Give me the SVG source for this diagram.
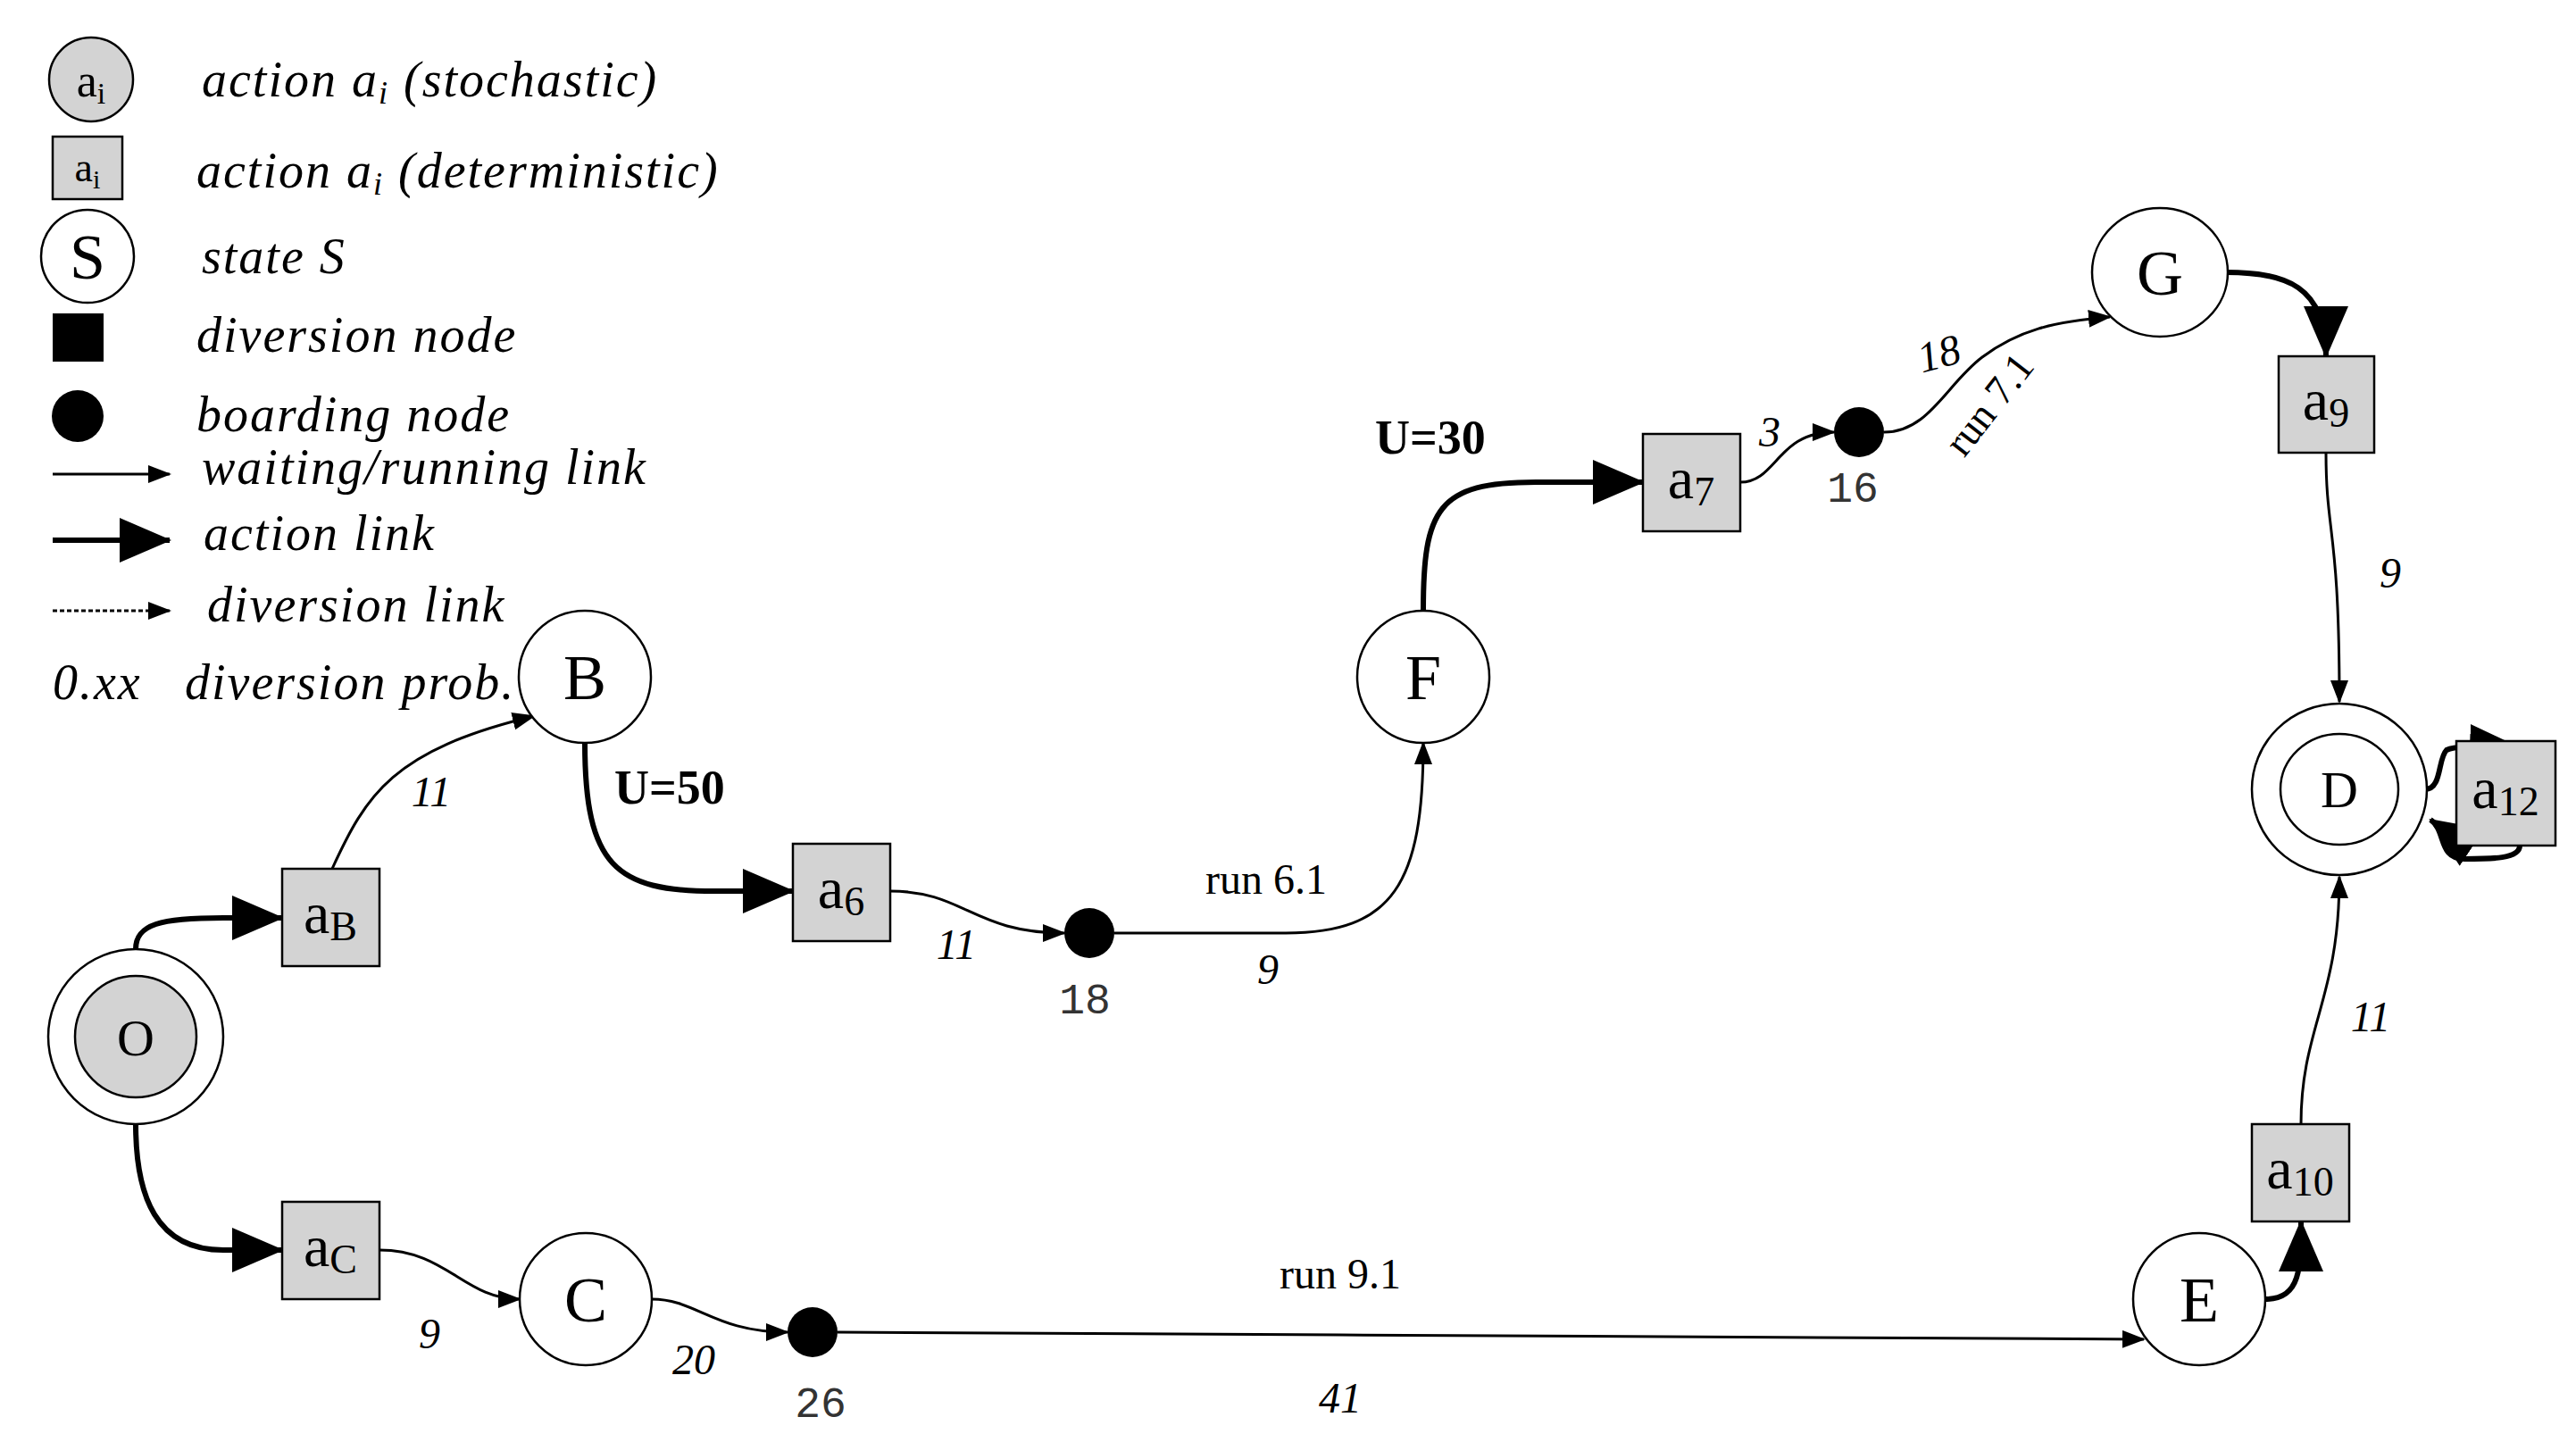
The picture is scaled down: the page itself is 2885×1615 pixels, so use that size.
<svg xmlns="http://www.w3.org/2000/svg" width="2885" height="1615" viewBox="0 0 2885 1615">
<style>
.st{fill:#fff;stroke:#000;stroke-width:2.5}
.gr{fill:#d3d3d3;stroke:#000;stroke-width:2.5}
.t{font-family:"Liberation Serif",serif;fill:#000}
.lg{font-family:"Liberation Serif",serif;font-style:italic;font-size:56px;letter-spacing:2px}
.nl{font-size:72px;text-anchor:middle}
.bl{font-size:66px;text-anchor:middle}
.it{font-family:"Liberation Serif",serif;font-style:italic;font-size:48px;text-anchor:middle}
.mono{font-family:"Liberation Mono",monospace;font-size:48px;text-anchor:middle;fill:#333}
.thin{fill:none;stroke:#000;stroke-width:3;marker-end:url(#ah)}
.thick{fill:none;stroke:#000;stroke-width:6;marker-end:url(#AH)}
</style>
<defs>
<marker id="ah" markerUnits="userSpaceOnUse" markerWidth="26" markerHeight="20" refX="24" refY="10" orient="auto"><path d="M0,0 L26,10 L0,20 Z"/></marker>
<marker id="AH" markerUnits="userSpaceOnUse" markerWidth="58" markerHeight="50" refX="56" refY="25" orient="auto"><path d="M0,0 L58,25 L0,50 Z"/></marker>
</defs>
<rect width="2885" height="1615" fill="#fff"/>
<g id="legend">
<circle cx="102" cy="89" r="47" class="gr"/>
<text class="t" x="102" y="108" font-size="52" text-anchor="middle">a<tspan font-size="34" dy="8">i</tspan></text>
<text class="t lg" x="226" y="108">action a<tspan font-size="36" dy="8">i</tspan><tspan dy="-8"> (stochastic)</tspan></text>
<rect x="59" y="153" width="78" height="70" class="gr"/>
<text class="t" x="98" y="203" font-size="46" text-anchor="middle">a<tspan font-size="30" dy="8">i</tspan></text>
<text class="t lg" x="220" y="210">action a<tspan font-size="36" dy="8">i</tspan><tspan dy="-8"> (deterministic)</tspan></text>
<circle cx="98" cy="287" r="52" class="st"/>
<text class="t" x="98" y="312" font-size="72" text-anchor="middle">S</text>
<text class="t lg" x="226" y="306">state S</text>
<rect x="59" y="351" width="57" height="54" fill="#000"/>
<text class="t lg" x="220" y="394">diversion node</text>
<circle cx="87" cy="466" r="29" fill="#000"/>
<text class="t lg" x="220" y="483">boarding node</text>
<line x1="59" y1="531" x2="190" y2="531" class="thin"/>
<text class="t lg" x="226" y="542">waiting/running link</text>
<line x1="59" y1="605" x2="190" y2="605" class="thick"/>
<text class="t lg" x="228" y="616">action link</text>
<line x1="59" y1="684" x2="190" y2="684" class="thin" stroke-dasharray="5,3"/>
<text class="t lg" x="232" y="696">diversion link</text>
<text class="t lg" x="59" y="783">0.xx</text>
<text class="t lg" x="207" y="783">diversion prob.</text>
</g>
<g id="connectors">
<path class="thick" d="M152,1063 C152,1035 180,1028 250,1028 L316,1028"/>
<path class="thick" d="M152,1259 C152,1340 175,1400 250,1400 L316,1400"/>
<path class="thin" d="M372,973 C410,890 440,840 598,802"/>
<path class="thick" d="M655,832 C655,970 690,998 800,998 L888,998"/>
<path class="thin" d="M997,998 C1080,998 1090,1045 1192,1045"/>
<path class="thin" d="M1248,1045 L1440,1045 C1560,1045 1594,990 1594,832"/>
<path class="thick" d="M1594,684 C1594,570 1610,540 1720,540 L1840,540"/>
<path class="thin" d="M1949,540 C1990,540 1990,484 2054,484"/>
<path class="thin" d="M2110,484 C2160,484 2180,430 2220,400 C2260,370 2300,360 2363,355"/>
<path class="thick" d="M2493,305 C2560,305 2605,320 2605,399"/>
<path class="thin" d="M2605,507 C2605,600 2620,590 2620,786"/>
<path class="thin" d="M2577,1259 C2577,1150 2620,1120 2620,982"/>
<path class="thick" d="M2537,1455 C2577,1455 2577,1420 2577,1368"/>
<path class="thin" d="M425,1400 C500,1400 520,1455 582,1455"/>
<path class="thin" d="M730,1455 C780,1455 800,1492 882,1492"/>
<path class="thin" d="M938,1492 L1500,1495 L2401,1500"/>
<path class="thick" d="M2716,884 C2735,884 2730,850 2740,840 C2750,835 2765,836 2822,838"/>
<path class="thick" d="M2822,947 C2822,962 2790,962 2760,962 C2730,962 2740,930 2722,918"/>
</g>
<g id="O"><circle cx="152" cy="1161" r="98" class="st"/><circle cx="152" cy="1161" r="68" class="gr"/><text class="t" x="152" y="1182" font-size="58" text-anchor="middle">O</text></g>
<g id="B"><circle cx="655" cy="758" r="74" class="st"/><text class="t nl" x="655" y="783">B</text></g>
<g id="C"><circle cx="656" cy="1455" r="74" class="st"/><text class="t nl" x="656" y="1480">C</text></g>
<g id="F"><circle cx="1594" cy="758" r="74" class="st"/><text class="t nl" x="1594" y="783">F</text></g>
<g id="G"><ellipse cx="2419" cy="305" rx="76" ry="72" class="st"/><text class="t nl" x="2419" y="330">G</text></g>
<g id="E"><circle cx="2463" cy="1455" r="74" class="st"/><text class="t nl" x="2463" y="1480">E</text></g>
<g id="D"><ellipse cx="2620" cy="884" rx="98" ry="96" class="st"/><ellipse cx="2620" cy="884" rx="66" ry="62" class="st"/><text class="t" x="2620" y="904" font-size="58" text-anchor="middle">D</text></g>
<g id="aB"><rect x="316" y="973" width="109" height="109" class="gr"/><text class="t bl" x="370" y="1045">a<tspan font-size="46" dy="8">B</tspan></text></g>
<g id="aC"><rect x="316" y="1346" width="109" height="109" class="gr"/><text class="t bl" x="370" y="1418">a<tspan font-size="46" dy="8">C</tspan></text></g>
<g id="a6"><rect x="888" y="945" width="109" height="109" class="gr"/><text class="t bl" x="942" y="1017">a<tspan font-size="46" dy="8">6</tspan></text></g>
<g id="a7"><rect x="1840" y="486" width="109" height="109" class="gr"/><text class="t bl" x="1894" y="558">a<tspan font-size="46" dy="8">7</tspan></text></g>
<g id="a9"><rect x="2552" y="399" width="107" height="108" class="gr"/><text class="t bl" x="2605" y="470">a<tspan font-size="46" dy="8">9</tspan></text></g>
<g id="a10"><rect x="2522" y="1259" width="109" height="109" class="gr"/><text class="t bl" x="2576" y="1331">a<tspan font-size="46" dy="8">10</tspan></text></g>
<g id="a12"><rect x="2751" y="830" width="111" height="117" class="gr"/><text class="t bl" x="2806" y="905">a<tspan font-size="46" dy="8">12</tspan></text></g>
<g id="n18"><circle cx="1220" cy="1045" r="28" fill="#000"/><text class="mono" x="1215" y="1135">18</text></g>
<g id="n16"><circle cx="2082" cy="484" r="28" fill="#000"/><text class="mono" x="2075" y="562">16</text></g>
<g id="n26"><circle cx="910" cy="1492" r="28" fill="#000"/><text class="mono" x="919" y="1587">26</text></g>
<g id="labels">
<text class="it" x="483" y="903">11</text>
<text class="t" x="688" y="900" font-size="54" font-weight="bold">U=50</text>
<text class="it" x="1071" y="1074">11</text>
<text class="t" x="1418" y="1001" font-size="48" text-anchor="middle">run 6.1</text>
<text class="it" x="1420" y="1102" font-size="56">9</text>
<text class="t" x="1540" y="508" font-size="54" font-weight="bold">U=30</text>
<text class="it" x="1982" y="500" font-size="52">3</text>
<text class="it" x="2172" y="412" transform="rotate(-15 2172 398)">18</text>
<text class="t" x="2228" y="468" font-size="46" text-anchor="middle" transform="rotate(-52 2228 453)">run 7.1</text>
<text class="it" x="2677" y="658" font-size="56">9</text>
<text class="it" x="2655" y="1155">11</text>
<text class="it" x="481" y="1510" font-size="56">9</text>
<text class="it" x="777" y="1539">20</text>
<text class="t" x="1501" y="1443" font-size="48" text-anchor="middle">run 9.1</text>
<text class="it" x="1501" y="1582" font-size="52">41</text>
</g>
</svg>
